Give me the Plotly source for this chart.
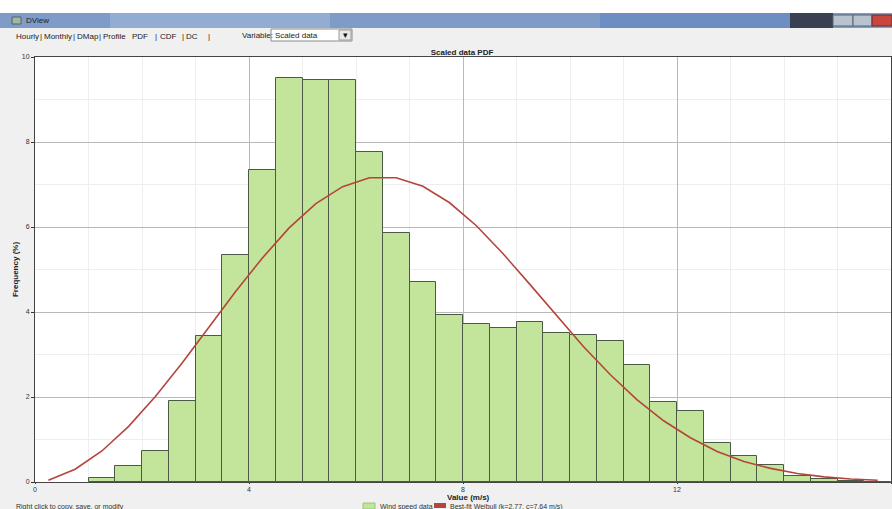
import plotly.graph_objects as go

# ---------------- data ----------------
bin_width = 0.5
bin_left_edges = [1.0, 1.5, 2.0, 2.5, 3.0, 3.5, 4.0, 4.5, 5.0, 5.5,
                  6.0, 6.5, 7.0, 7.5, 8.0, 8.5, 9.0, 9.5, 10.0, 10.5,
                  11.0, 11.5, 12.0, 12.5, 13.0, 13.5, 14.0, 14.5, 15.0, 15.5]
freq_pct = [0.09, 0.38, 0.74, 1.91, 3.43, 5.35, 7.34, 9.51, 9.46, 9.45,
            7.76, 5.87, 4.71, 3.93, 3.71, 3.62, 3.76, 3.51, 3.47, 3.31,
            2.75, 1.88, 1.67, 0.91, 0.61, 0.41, 0.14, 0.06, 0.03, 0.01]

weibull_x = [0.25, 0.75, 1.25, 1.75, 2.25, 2.75, 3.25, 3.75, 4.25, 4.75,
             5.25, 5.75, 6.25, 6.75, 7.25, 7.75, 8.25, 8.75, 9.25, 9.75,
             10.25, 10.75, 11.25, 11.75, 12.25, 12.75, 13.25, 13.75, 14.25,
             14.75, 15.25, 15.75]
weibull_y = [0.04, 0.30, 0.73, 1.31, 2.01, 2.80, 3.64, 4.48, 5.27, 5.98,
             6.55, 6.95, 7.16, 7.16, 6.96, 6.57, 6.03, 5.37, 4.65, 3.91,
             3.19, 2.53, 1.94, 1.44, 1.04, 0.72, 0.48, 0.32, 0.20,
             0.12, 0.07, 0.04]

x_ticks = [0, 4, 8, 12, 16]
y_ticks = [0, 2, 4, 6, 8, 10]

bar_name = "Wind speed data"
fit_name = "Best-fit Weibull (k=2.77, c=7.64 m/s)"

BAR_FILL = "#c2e59b"
BAR_EDGE = "#4b5a44"
FIT_COLOR = "#b5443c"

# ---------------- geometry helpers ----------------
W, H = 892, 509
ML, MR, MT, MB = 35, 1, 57, 27
PW, PH = W - ML - MR, H - MT - MB


def px(x):
    return (x - ML) / PW


def py(y):
    return (H - MB - y) / PH


bin_centers = [e + bin_width / 2 for e in bin_left_edges]

FONT = "Liberation Sans"

fig = go.Figure()
fig.add_trace(go.Bar(
    x=bin_centers, y=freq_pct, width=bin_width, name=bar_name,
    marker=dict(color=BAR_FILL, line=dict(color=BAR_EDGE, width=1)),
))
fig.add_trace(go.Scatter(
    x=weibull_x, y=weibull_y, mode="lines", name=fit_name,
    line=dict(color=FIT_COLOR, width=1.6),
))

shapes = []
annotations = []


def rect(x0, x1, y0, y1, fill, line_color=None, lw=0):
    shapes.append(dict(type="rect", xref="paper", yref="paper",
                       x0=px(x0), x1=px(x1), y0=py(y0), y1=py(y1),
                       fillcolor=fill,
                       line=dict(color=line_color or fill, width=lw),
                       layer="above"))


def label(text, x, y, size=8, color="#222", anchor="left"):
    annotations.append(dict(text=text, xref="paper", yref="paper", x=px(x), y=py(y),
                            xanchor=anchor, yanchor="middle", showarrow=False,
                            font=dict(family=FONT, size=size, color=color)))


# window chrome: white strip, title bar, buttons
rect(0, W, 0, 13, "white")
rect(0, W, 13, 28, "#7f9cc8")
rect(110, 330, 13, 28, "#93acd2")
rect(600, 790, 13, 28, "#6d8ec2")
rect(790, 833, 13, 28, "#3a4150")
rect(833, 853, 15, 26, "#b9c3cf", "#5a6270", 1)
rect(853, 872, 15, 26, "#b9c3cf", "#5a6270", 1)
rect(872, 892, 15, 26, "#c9463d", "#6a2a28", 1)
rect(12, 21, 17, 24, "#9fb8a0", "#55606a", 1)
label("DView", 24, 20.5)

# tabs
tabs = [("Hourly", 14), ("|", 38), ("Monthly", 42), ("|", 71), ("DMap", 75), ("|", 97),
        ("Profile", 101), ("PDF", 130), ("|", 153), ("CDF", 158), ("|", 180),
        ("DC", 184), ("|", 206)]
for t, x0 in tabs:
    label(t, x0, 36)
label("Variable:", 240, 35.5)
rect(271, 352, 29, 41, "white", "#8a8a8a", 1)
rect(339, 351, 30, 40, "#e8e8e8", "#9a9a9a", 1)
label("Scaled data", 273, 35)
label("▾", 345, 35, size=9, color="#111", anchor="center")

# axis title for x, placed as in the reference
annotations.append(dict(text="<b>Value (m/s)</b>", xref="paper", yref="paper",
                        x=px(468), y=py(497), xanchor="center", yanchor="middle",
                        showarrow=False, font=dict(family=FONT, size=8, color="#222")))

# status text
label("Right click to copy, save, or modify", 14, 507, size=7, color="#333")

# legend drawn at the bottom, as in the reference
rect(363, 375, 503, 509, BAR_FILL, "#9cc27a", 1)
label(bar_name, 378, 506.5, size=7, color="#333")
rect(434, 446, 503, 508, FIT_COLOR)
label(fit_name, 448, 506.5, size=7, color="#333")

fig.update_layout(
    width=W, height=H,
    margin=dict(l=ML, r=MR, t=MT, b=MB, pad=0, autoexpand=False),
    paper_bgcolor="#f0f0f0", plot_bgcolor="white",
    font=dict(family=FONT, size=7, color="#333"),
    title=dict(text="<b>Scaled data PDF</b>", x=px(462), xref="paper",
               y=1 - 52 / H, yref="container", xanchor="center", yanchor="middle",
               font=dict(family=FONT, size=8, color="#222")),
    bargap=0,
    showlegend=False,
    shapes=shapes, annotations=annotations,
)

fig.update_xaxes(
    range=[0, 16], tickvals=x_ticks, ticks="outside", ticklen=1, tickcolor="#333",
    showline=True, linecolor="#444", linewidth=1, mirror=True, automargin=False,
    showgrid=True, gridcolor="#b9b9b9", gridwidth=1, zeroline=False,
    minor=dict(dtick=1, tick0=0, showgrid=True, gridcolor="#eeeeee", gridwidth=1),
    tickfont=dict(size=7, color="#333"),
)
fig.update_yaxes(
    range=[0, 10], tickvals=y_ticks, ticks="outside", ticklen=3, tickcolor="#333",
    showline=True, linecolor="#444", linewidth=1, mirror=True, automargin=False,
    showgrid=True, gridcolor="#b9b9b9", gridwidth=1, zeroline=False,
    minor=dict(dtick=1, tick0=0, showgrid=True, gridcolor="#eeeeee", gridwidth=1),
    tickfont=dict(size=7, color="#333"),
    title=dict(text="<b>Frequency (%)</b>", font=dict(size=8, color="#222"), standoff=2),
)

fig.write_html("out.html")
